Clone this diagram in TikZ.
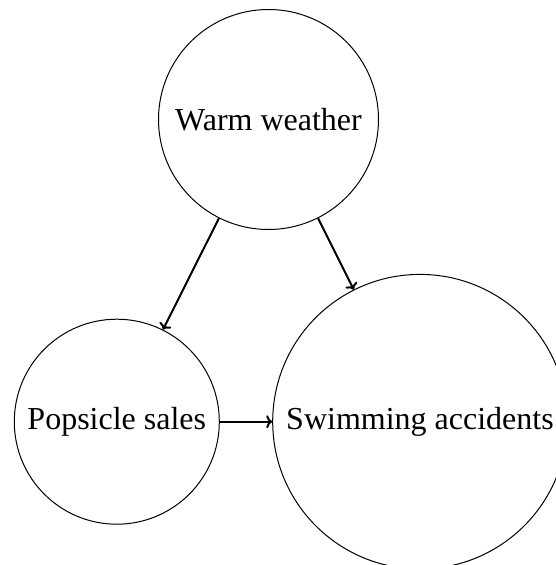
\documentclass[tikz,border=0pt]{standalone}
\usepackage{fontspec}
\setmainfont{Liberation Serif}
\usetikzlibrary{arrows.meta}
\begin{document}
\begin{tikzpicture}[x=1pt,y=-1pt,
  var/.style={draw,circle,line width=1pt,inner sep=0pt,font=\fontsize{32}{38}\selectfont},
  edge/.style={-{To[length=6pt,width=13pt]},line width=2pt}]
\useasboundingbox (0,0) rectangle (555,565);
\node[var,minimum size=220pt] (w) at (268.5,119.5) {Warm weather};
\node[var,minimum size=205pt] (p) at (116.8,421.7) {Popsicle sales};
\node[var,minimum size=294.6pt] (s) at (420,421.7) {Swimming accidents};
\draw[edge] (w) -- (p);
\draw[edge] (w) -- (s);
\draw[edge] (p) -- (s);
\end{tikzpicture}
\end{document}
